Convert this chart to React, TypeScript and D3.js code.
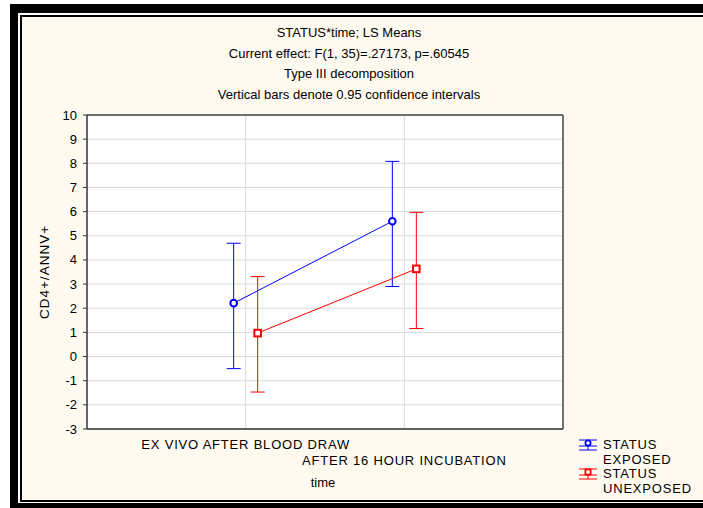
import React from "react";
import * as d3 from "d3";

const titleLines = [
  "STATUS*time; LS Means",
  "Current effect: F(1, 35)=.27173, p=.60545",
  "Type III decomposition",
  "Vertical bars denote 0.95 confidence intervals",
];
const categories = ["EX VIVO AFTER BLOOD DRAW", "AFTER 16 HOUR INCUBATION"];
const yTicks = [-3, -2, -1, 0, 1, 2, 3, 4, 5, 6, 7, 8, 9, 10];
const exposedMean = [2.21, 5.6];
const exposedLow = [-0.5, 2.9];
const exposedHigh = [4.69, 8.08];
const unexposedMean = [0.97, 3.63];
const unexposedLow = [-1.47, 1.16];
const unexposedHigh = [3.31, 5.97];
const legendLabels = [
  ["STATUS", "EXPOSED"],
  ["STATUS", "UNEXPOSED"],
];

const FONT = "'Liberation Sans', Arial, sans-serif";

export default function App() {
  const W = 703, H = 508;
  const left = 87, right = 563, top = 115, bottom = 429;
  const y = d3.scaleLinear().domain([-3, 10]).range([bottom, top]);
  const x = d3.scalePoint<string>().domain(categories).range([left, right]).padding(1);
  const off = 12;
  const series = [
    { color: "#0000FF", mean: exposedMean, low: exposedLow, high: exposedHigh, dx: -off, marker: "circle" },
    { color: "#FF0000", mean: unexposedMean, low: unexposedLow, high: unexposedHigh, dx: off, marker: "square" },
  ];
  const line = d3.line<[number, number]>().x((d) => d[0]).y((d) => d[1]);
  const cap = 7;

  return (
    <svg width={W} height={H} style={{ position: "absolute", left: 0, top: 0 }} fontFamily={FONT}>
      <rect x={0} y={0} width={W} height={H} fill="#fff" />
      <rect x={10} y={4} width={W} height={H} fill="#000" />
      <rect x={18} y={13} width={W} height={490} fill="#fff" />
      <rect x={20} y={15} width={W} height={487} fill="#000" />
      <rect x={22} y={17} width={W} height={483} fill="#FFFAF0" />

      {titleLines.map((t, i) => (
        <text key={i} x={349} y={37 + i * 20.7} textAnchor="middle" fontSize={13} fill="#000">
          {t}
        </text>
      ))}

      <rect x={left} y={top} width={right - left} height={bottom - top} fill="#fff" />
      {yTicks.map((t) => (
        <line key={t} x1={left} x2={right} y1={y(t)} y2={y(t)} stroke="#d9d9d9" strokeWidth={1} />
      ))}
      {categories.map((c) => (
        <line key={c} x1={x(c)} x2={x(c)} y1={top} y2={bottom} stroke="#d9d9d9" strokeWidth={1} />
      ))}
      <line x1={left} x2={right} y1={top} y2={top} stroke="#444" strokeWidth={1.5} />
      <line x1={right} x2={right} y1={top} y2={bottom} stroke="#444" strokeWidth={1.5} />
      <line x1={left} x2={left} y1={top} y2={bottom} stroke="#333" strokeWidth={1.5} />
      <line x1={left} x2={right} y1={bottom} y2={bottom} stroke="#333" strokeWidth={1.5} />
      {yTicks.map((t) => (
        <g key={"yt" + t}>
          <line x1={left - 4} x2={left} y1={y(t)} y2={y(t)} stroke="#333" />
          <text x={77} y={y(t) + 4.5} textAnchor="end" fontSize={13} fill="#000">
            {t}
          </text>
        </g>
      ))}
      <text
        transform={`translate(49,${(top + bottom) / 2}) rotate(-90)`}
        textAnchor="middle"
        fontSize={13.5}
        letterSpacing={1}
        fill="#000"
      >
        CD4+/ANNV+
      </text>
      {categories.map((c, i) => (
        <text key={c} x={x(c)!} y={449 + i * 16} textAnchor="middle" fontSize={13} letterSpacing={0.8} fill="#000">
          {c}
        </text>
      ))}
      <text x={323} y={487} textAnchor="middle" fontSize={13} fill="#000">
        time
      </text>

      {series.map((s, si) => {
        const pts: [number, number][] = categories.map((c, i) => [x(c)! + s.dx, y(s.mean[i])]);
        return (
          <g key={si}>
            <path d={line(pts) || ""} fill="none" stroke={s.color} strokeWidth={1} />
            {categories.map((c, i) => {
              const cx = x(c)! + s.dx;
              return (
                <g key={c} stroke={s.color} strokeWidth={1}>
                  <line x1={cx} x2={cx} y1={y(s.low[i])} y2={y(s.high[i])} />
                  <line x1={cx - cap} x2={cx + cap} y1={y(s.low[i])} y2={y(s.low[i])} />
                  <line x1={cx - cap} x2={cx + cap} y1={y(s.high[i])} y2={y(s.high[i])} />
                </g>
              );
            })}
            {pts.map((p, i) =>
              s.marker === "circle" ? (
                <circle key={i} cx={p[0]} cy={p[1]} r={3.3} fill="#fff" stroke={s.color} strokeWidth={2} />
              ) : (
                <rect key={i} x={p[0] - 3.3} y={p[1] - 3.3} width={6.6} height={6.6} fill="#fff" stroke={s.color} strokeWidth={2} />
              )
            )}
          </g>
        );
      })}

      {series.map((s, si) => {
        const ly = 445 + si * 29;
        const lx = 588;
        return (
          <g key={"lg" + si}>
            <g stroke={s.color} strokeWidth={1}>
              <line x1={lx - 9} x2={lx + 9} y1={ly - 5} y2={ly - 5} />
              <line x1={lx - 9} x2={lx + 9} y1={ly + 1} y2={ly + 1} />
              <line x1={lx - 9} x2={lx + 9} y1={ly + 5} y2={ly + 5} />
              <line x1={lx} x2={lx} y1={ly - 5} y2={ly + 5} />
            </g>
            {s.marker === "circle" ? (
              <circle cx={lx} cy={ly - 2} r={2.6} fill="#fff" stroke={s.color} strokeWidth={1.8} />
            ) : (
              <rect x={lx - 2.6} y={ly - 4.6} width={5.2} height={5.2} fill="#fff" stroke={s.color} strokeWidth={1.8} />
            )}
            {legendLabels[si].map((t, k) => (
              <text key={k} x={603} y={ly + 4 + k * 14.5} fontSize={13} letterSpacing={0.8} fill="#000">
                {t}
              </text>
            ))}
          </g>
        );
      })}
    </svg>
  );
}
